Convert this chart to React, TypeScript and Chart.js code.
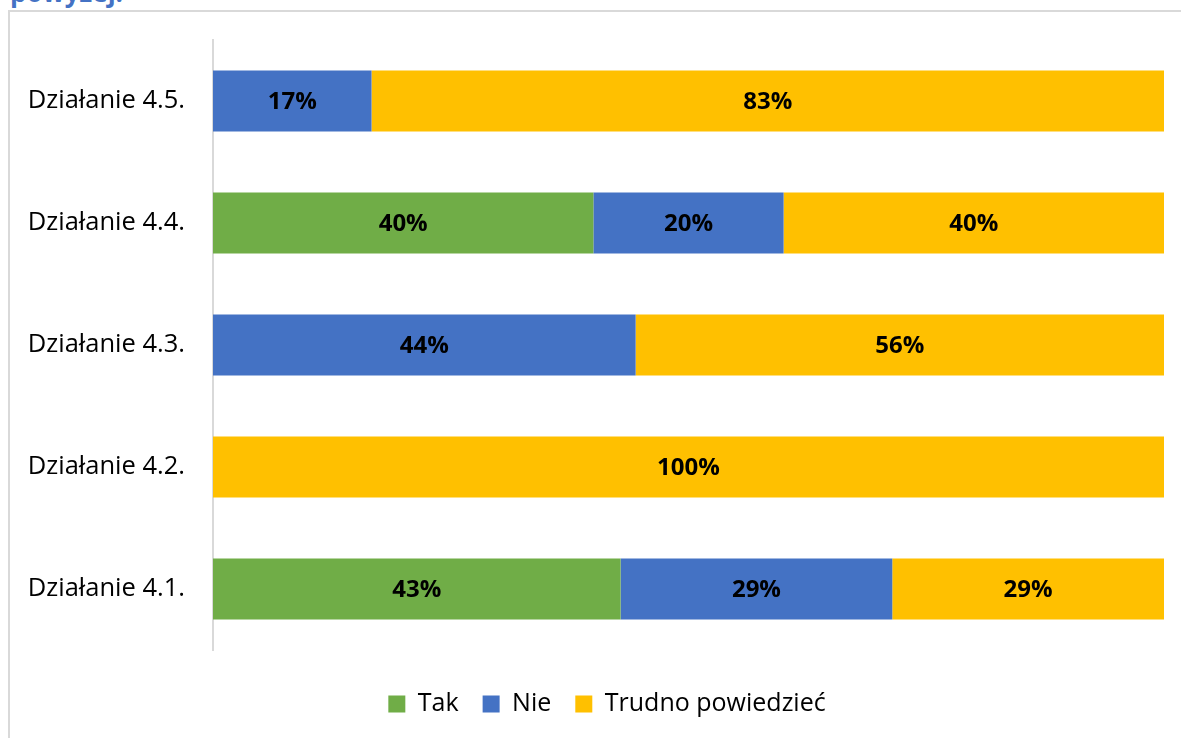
import React, { useEffect, useRef } from "react";
import { Chart, registerables } from "chart.js";

Chart.register(...registerables);

const categories = ["Działanie 4.5.", "Działanie 4.4.", "Działanie 4.3.", "Działanie 4.2.", "Działanie 4.1."];
const seriesNames = ["Tak", "Nie", "Trudno powiedzieć"];
const takValues = [0, 40, 0, 0, 42.86];
const nieValues = [16.67, 20, 44.44, 0, 28.57];
const trudnoValues = [83.33, 40, 55.56, 100, 28.57];
const seriesColors = ["#70AD47", "#4472C4", "#FFC000"];

const FONT = "'Open Sans', 'Noto Sans', sans-serif";

const labelPlugin = {
  id: "barLabels",
  afterDatasetsDraw(chart: any) {
    const ctx = chart.ctx;
    ctx.save();
    ctx.font = `bold 24px ${FONT}`;
    ctx.fillStyle = "#000000";
    ctx.textAlign = "center";
    ctx.textBaseline = "middle";
    chart.data.datasets.forEach((ds: any, di: number) => {
      const meta = chart.getDatasetMeta(di);
      meta.data.forEach((el: any, i: number) => {
        const v = ds.data[i];
        if (!v) return;
        const cx = (el.x + el.base) / 2;
        ctx.fillText(`${Math.round(v)}%`, cx, el.y + 1);
      });
    });
    ctx.restore();
  },
};

const legendShiftPlugin = {
  id: "legendShift",
  afterLayout(chart: any) {
    if (chart.legend) {
      chart.legend.left += 20;
      chart.legend.right += 20;
    }
  },
};

export default function App() {
  const ref = useRef<HTMLCanvasElement | null>(null);
  useEffect(() => {
    if (!ref.current) return;
    const data = [takValues, nieValues, trudnoValues];
    const chart = new Chart(ref.current, {
      type: "bar",
      data: {
        labels: categories,
        datasets: seriesNames.map((name, i) => ({
          label: name,
          data: data[i],
          backgroundColor: seriesColors[i],
          borderWidth: 0,
          barPercentage: 0.5,
          categoryPercentage: 1,
        })),
      },
      options: {
        indexAxis: "y",
        responsive: false,
        animation: false,
        layout: { padding: { top: 28, right: 17, bottom: 11.5, left: 0 } },
        scales: {
          x: {
            stacked: true,
            min: 0,
            max: 100,
            display: true,
            grid: { display: false, drawTicks: false },
            border: { display: false },
            ticks: { display: false },
            afterFit: (s: any) => {
              s.height = 726 - 11.5 - 35 - 24 - 638;
              s.paddingLeft = 0;
              s.paddingRight = 0;
            },
          },
          y: {
            stacked: true,
            grid: { display: false, drawTicks: false },
            border: { display: true, color: "#d9d9d9", width: 2 },
            ticks: {
              color: "#000000",
              padding: 28,
              font: { family: FONT, size: 25.5 },
            },
            afterFit: (s: any) => {
              s.width = 203;
              s.paddingTop = 0;
              s.paddingBottom = 0;
            },
          },
        },
        plugins: {
          legend: {
            position: "bottom",
            labels: {
              color: "#000000",
              boxWidth: 17,
              boxHeight: 17,
              padding: 24,
              font: { family: FONT, size: 25 },
            },
          },
          tooltip: { enabled: false },
        },
      },
      plugins: [labelPlugin, legendShiftPlugin],
    });
    return () => chart.destroy();
  }, []);

  return (
    <div style={{ position: "absolute", left: 0, top: 0, width: 1181, height: 738, overflow: "hidden", background: "#ffffff" }}>
      <div
        style={{
          position: "absolute",
          left: 10,
          top: -21.5,
          fontFamily: FONT,
          fontWeight: 700,
          fontSize: 26,
          lineHeight: "26px",
          color: "#4472C4",
          whiteSpace: "nowrap",
        }}
      >
        powyżej:
      </div>
      <div
        style={{
          position: "absolute",
          left: 8,
          top: 10,
          width: 1173,
          height: 728,
          borderTop: "2px solid #d9d9d9",
          borderLeft: "2px solid #d9d9d9",
          boxSizing: "border-box",
        }}
      />
      <canvas
        ref={ref}
        width={1171}
        height={726}
        style={{ position: "absolute", left: 10, top: 12, width: 1171, height: 726 }}
      />
    </div>
  );
}
